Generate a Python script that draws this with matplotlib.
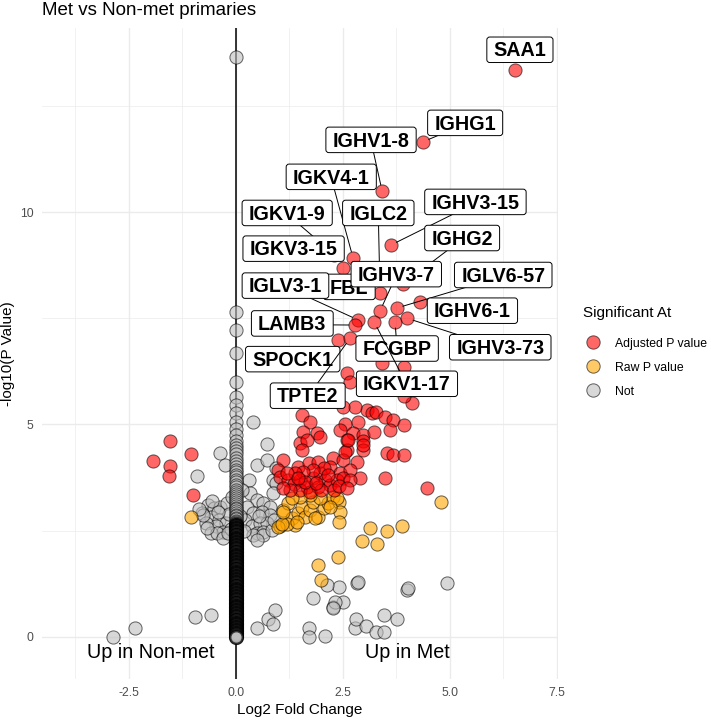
import matplotlib
matplotlib.use("Agg")
import matplotlib.pyplot as plt
from matplotlib.lines import Line2D
from matplotlib.patches import BoxStyle

plt.rcParams['font.family'] = ['Liberation Sans', 'DejaVu Sans']

# ---- data (log2 fold change, -log10 p) ----
# genes with log2FC == 0: the loose upper part of the column ...
zero_y = [13.65, 7.65, 7.22, 6.68, 6.0, 5.65, 5.46, 5.27, 5.06, 4.9, 4.75, 4.6, 4.52,
          4.45, 4.38, 4.3, 4.22, 4.15, 4.08, 4.0, 3.94, 3.88, 3.82, 3.76, 3.7, 3.64,
          3.58, 3.52, 3.47, 3.42, 3.37, 3.32, 3.27, 3.22, 3.17, 3.12, 3.08, 3.04, 3.0,
          2.96, 2.92, 2.88, 2.84, 2.8, 2.77, 2.74, 2.71, 2.68]
# ... and the packed lower part that turns solid black
zero_y_dense = [2.66, 2.64, 2.63, 2.61, 2.60,
                2.59, 2.57, 2.56, 2.54, 2.53, 2.51, 2.50,
                2.49, 2.47, 2.46, 2.44, 2.43, 2.41, 2.40,
                2.39, 2.37, 2.36, 2.34, 2.33, 2.31, 2.30,
                2.29, 2.27, 2.26, 2.24, 2.23, 2.21, 2.20,
                2.19, 2.17, 2.16, 2.14, 2.13, 2.11, 2.10,
                2.09, 2.07, 2.06, 2.04, 2.03, 2.01, 2.00,
                1.99, 1.97, 1.96, 1.94, 1.93, 1.91, 1.90,
                1.89, 1.87, 1.86, 1.84, 1.83, 1.81, 1.80,
                1.79, 1.77, 1.76, 1.74, 1.73, 1.71, 1.70,
                1.69, 1.67, 1.66, 1.64, 1.63, 1.61, 1.60,
                1.59, 1.57, 1.56, 1.54, 1.53, 1.51, 1.50,
                1.49, 1.47, 1.46, 1.44, 1.43, 1.41, 1.40,
                1.39, 1.37, 1.36, 1.34, 1.33, 1.31, 1.30,
                1.29, 1.27, 1.26, 1.24, 1.23, 1.21, 1.20,
                1.19, 1.17, 1.16, 1.14, 1.13, 1.11, 1.10,
                1.09, 1.07, 1.06, 1.04, 1.03, 1.01, 1.00,
                0.99, 0.97, 0.96, 0.94, 0.93, 0.91, 0.90,
                0.89, 0.87, 0.86, 0.84, 0.83, 0.81, 0.80,
                0.79, 0.77, 0.76, 0.74, 0.73, 0.71, 0.70,
                0.69, 0.67, 0.66, 0.64, 0.63, 0.61, 0.60,
                0.59, 0.57, 0.56, 0.54, 0.53, 0.51, 0.50,
                0.49, 0.47, 0.46, 0.44, 0.43, 0.41, 0.40,
                0.39, 0.37, 0.36, 0.34, 0.33, 0.31, 0.30,
                0.29, 0.27, 0.26, 0.24, 0.23, 0.21, 0.20,
                0.19, 0.17, 0.16, 0.14, 0.13, 0.11, 0.10,
                0.09, 0.07, 0.06, 0.04, 0.03, 0.01, 0.00]

not_sig = [(-2.87, 0.0), (-2.35, 0.21), (-0.95, 0.48), (-0.58, 0.52),
           (-0.9, 3.79), (-0.37, 4.32), (-0.25, 4.05), (-0.65, 3.1), (-0.78, 2.91),
           (-0.51, 3.03), (-0.36, 3.07), (-0.2, 3.15), (-0.59, 2.83), (-0.39, 2.75),
           (-0.23, 2.68), (-0.47, 2.6), (-0.7, 2.68), (-0.31, 2.48), (-0.59, 2.44),
           (-0.76, 2.87), (-0.44, 2.45), (-0.68, 2.56), (-0.29, 2.33), (-0.15, 2.9),
           (-0.12, 2.55), (-0.85, 3.0), (-0.1, 3.3), (-0.55, 3.2), (-0.42, 2.95),
           (-0.18, 2.45),
           (0.41, 5.07), (0.72, 4.54), (0.49, 4.05), (0.72, 4.16), (0.3, 3.69),
           (0.87, 3.69), (0.95, 3.97), (0.95, 3.62), (0.88, 3.38), (0.34, 3.38),
           (0.49, 3.22), (0.64, 3.15), (0.8, 3.07), (0.26, 3.07), (0.41, 2.91),
           (0.61, 2.95), (0.8, 2.87), (0.22, 2.75), (0.38, 2.6), (0.57, 2.68),
           (0.72, 2.68), (0.49, 2.44), (0.64, 2.48), (0.41, 2.4), (0.64, 2.4),
           (0.49, 2.28), (0.84, 2.52), (0.15, 3.45), (0.2, 2.5), (0.1, 2.85),
           (0.55, 2.85), (0.9, 2.75),
           (0.5, 0.21), (0.76, 0.42), (0.92, 0.63), (0.87, 0.3), (1.7, 0.21),
           (1.7, 0.0), (2.09, 0.03), (1.81, 0.91), (2.28, 0.71), (2.51, 0.82),
           (2.32, 0.82), (2.4, 1.18), (2.14, 1.22), (2.84, 1.27), (2.86, 1.3),
           (4.0, 1.1), (4.02, 1.15), (4.94, 1.27), (2.79, 0.21), (2.81, 0.42),
           (3.05, 0.26), (3.47, 0.52), (3.77, 0.42), (3.28, 0.12), (3.47, 0.12),
           (2.27, 0.67)]

raw_sig = [(-1.04, 2.83),
           (1.035, 2.6), (1.11, 2.99), (1.23, 3.15), (1.31, 2.79), (1.39, 2.64),
           (1.46, 2.91), (1.54, 3.07), (1.62, 2.83), (1.74, 2.99), (1.81, 3.18),
           (1.93, 2.83), (2.05, 3.03), (2.16, 3.15), (2.28, 3.3), (2.4, 3.18),
           (2.44, 2.95), (2.4, 2.71), (2.36, 3.26), (1.97, 3.26), (1.74, 3.34),
           (1.5, 3.3), (1.31, 3.26), (1.19, 2.67), (1.42, 2.71), (1.85, 2.79),
           (2.2, 3.07), (0.99, 2.59), (1.07, 2.66), (1.11, 2.93),
           (1.93, 1.69), (1.99, 1.34), (2.38, 1.88), (2.95, 2.26), (3.14, 2.56),
           (3.53, 2.49), (3.3, 2.19), (3.89, 2.61), (4.8, 3.18)]

adj_sig = [(-1.53, 4.61), (-1.93, 4.13), (-1.53, 4.02), (-1.56, 3.79), (-1.04, 4.31),
           (-0.99, 3.34),
           (3.41, 6.44), (3.92, 6.36), (2.59, 6.2), (2.67, 6.01), (4.11, 5.5),
           (3.92, 5.66), (3.06, 5.34), (3.18, 5.26), (3.27, 5.3), (2.79, 5.42),
           (3.49, 5.18), (3.68, 5.1), (3.92, 4.99), (2.55, 5.02), (2.86, 5.06),
           (2.44, 4.87), (2.75, 4.79), (2.98, 4.75), (3.22, 4.83), (3.6, 4.87),
           (1.54, 5.23), (1.74, 5.07), (1.58, 4.83), (1.89, 4.79), (1.97, 4.7),
           (1.5, 4.56), (1.66, 4.63), (2.59, 4.64), (2.98, 4.6), (2.98, 4.4),
           (3.53, 4.32), (3.68, 4.28), (3.92, 4.28), (3.49, 3.74), (4.46, 3.5),
           (2.59, 4.4), (2.28, 4.2), (2.83, 4.12), (1.11, 4.16), (1.46, 4.0),
           (1.7, 4.09), (1.93, 4.12), (2.51, 5.42), (2.51, 4.16), (1.54, 4.4),
           (0.996, 3.93), (2.2, 4.01), (2.44, 3.85), (2.67, 3.93), (2.9, 3.73),
           (2.98, 4.52), (2.55, 4.36), (2.63, 4.63),
           (1.04, 3.77), (1.23, 3.69), (1.35, 3.61), (1.5, 3.69), (1.66, 3.54),
           (1.81, 3.73), (1.97, 3.85), (2.09, 3.69), (2.2, 3.58), (2.36, 3.69),
           (2.51, 3.73), (2.67, 3.69), (2.05, 3.97), (1.81, 3.93), (1.58, 3.89),
           (1.39, 3.85), (1.93, 3.54), (1.5, 3.46), (1.74, 3.42), (1.27, 3.46),
           (1.1, 3.5), (1.2, 3.85), (2.0, 3.45), (2.3, 3.45), (1.62, 3.65),
           (1.88, 3.62), (2.15, 3.82), (2.4, 3.55), (1.45, 3.75), (2.6, 3.5)]

# labelled genes: name, log2FC, -log10 p
labelled = [("FBL", 2.6, 8.25), ("SAA1", 6.53, 13.34), ("IGHG1", 4.37, 11.65),
            ("IGHV1-8", 3.42, 10.49), ("IGKV4-1", 2.74, 8.92), ("IGKV1-9", 2.3, 9.0),
            ("IGLC2", 3.37, 8.09), ("IGHV3-15", 3.62, 9.22), ("IGHG2", 3.9, 8.3),
            ("IGKV3-15", 2.51, 8.69), ("IGHV3-7", 3.37, 7.67), ("IGLV3-1", 2.86, 7.46),
            ("IGLV6-57", 3.76, 7.74), ("IGHV6-1", 4.31, 7.89), ("LAMB3", 2.79, 7.34),
            ("SPOCK1", 2.39, 6.99), ("FCGBP", 3.72, 7.42), ("IGHV3-73", 4.0, 7.5),
            ("IGKV1-17", 3.23, 7.42), ("TPTE2", 2.67, 7.03)]

# where the repelled labels ended up
label_pos = {"FBL": (2.65, 8.21), "SAA1": (6.64, 13.79), "IGHG1": (5.36, 12.07),
             "IGHV1-8": (3.16, 11.67), "IGKV4-1": (2.23, 10.8), "IGKV1-9": (1.2, 9.95),
             "IGLC2": (3.33, 9.95), "IGHV3-15": (5.6, 10.21), "IGHG2": (5.29, 9.36),
             "IGKV3-15": (1.35, 9.11), "IGHV3-7": (3.75, 8.51), "IGLV3-1": (1.16, 8.24),
             "IGLV6-57": (6.25, 8.49), "IGHV6-1": (5.53, 7.65), "LAMB3": (1.32, 7.35),
             "SPOCK1": (1.33, 6.51), "FCGBP": (3.77, 6.76), "IGHV3-73": (6.18, 6.79),
             "IGKV1-17": (4.0, 5.93), "TPTE2": (1.68, 5.65)}
no_segment = {"SAA1", "IGKV3-15", "IGHV6-1", "SPOCK1", "FBL"}

RED, ORANGE, GREY = "#FF0000", "#FFA500", "#BEBEBE"

fig = plt.figure(figsize=(7.11, 7.2), dpi=100)
ax = fig.add_axes([0.0591, 0.0569, 0.7257, 0.9042])

ax.set_xlim(-4.53, 7.53)
ax.set_ylim(-0.99, 14.33)
ax.set_xticks([-2.5, 0, 2.5, 5, 7.5], ["-2.5", "0.0", "2.5", "5.0", "7.5"])
ax.set_yticks([0, 5, 10], ["0", "5", "10"])
ax.set_xticks([-3.75, -1.25, 1.25, 3.75, 6.25], minor=True)
ax.set_yticks([2.5, 7.5, 12.5], minor=True)
ax.grid(which="major", color="#EBEBEB", lw=1.0)
ax.grid(which="minor", color="#EBEBEB", lw=0.5)
ax.set_axisbelow(True)
ax.tick_params(which="both", length=0, labelsize=8.8, labelcolor="#4D4D4D", pad=6)
for s in ax.spines.values():
    s.set_visible(False)

ax.axvline(0, color="black", lw=1.1, zorder=2)

pt = dict(s=90, edgecolors="black", linewidths=0.7, alpha=0.6, zorder=3)
ax.scatter([p[0] for p in not_sig], [p[1] for p in not_sig], c=GREY, **pt)
ax.scatter([0.0] * len(zero_y), zero_y, c=GREY, **pt)
# the real column holds thousands of overlapping genes; heavier outlines stand in for them
ax.scatter([0.0] * len(zero_y_dense), zero_y_dense, c=GREY, s=84, edgecolors="black",
           linewidths=1.7, alpha=0.6, zorder=3)
ax.scatter([p[0] for p in raw_sig], [p[1] for p in raw_sig], c=ORANGE, **pt)
ax.scatter([p[0] for p in adj_sig], [p[1] for p in adj_sig], c=RED, **pt)
ax.scatter([g[1] for g in labelled], [g[2] for g in labelled], c=RED, **pt)


def label_box(x0, y0, width, height, mutation_size):
    padx = 0.34 * mutation_size
    return BoxStyle.Round(pad=0, rounding_size=0.15)(
        x0 - padx, y0 - 0.105 * mutation_size, width + 2 * padx,
        height + 0.33 * mutation_size, mutation_size)


radius = 6.5
for i, (name, gx, gy) in enumerate(labelled):
    lx, ly = label_pos[name]
    z = 10 + 2 * i
    if name not in no_segment:
        p = ax.transData.transform((gx, gy))
        b = ax.transData.transform((lx, ly))
        d = b - p
        d = d / (d ** 2).sum() ** 0.5
        start = ax.transData.inverted().transform(p + radius * d)
        ax.plot([start[0], lx], [start[1], ly], color="black", lw=0.7, zorder=z)
    ax.text(lx, ly, name, fontsize=14.2, fontweight="bold", ha="center", va="center",
            zorder=z + 1,
            bbox=dict(boxstyle=label_box, fc="white", ec="black", lw=0.7))

ax.text(-1.98, -0.49, "Up in Non-met", fontsize=14.2, ha="center", va="baseline")
ax.text(4.0, -0.49, "Up in Met", fontsize=14.2, ha="center", va="baseline")

ax.set_title("Met vs Non-met primaries", loc="left", fontsize=13.5, pad=9.4)
ax.set_xlabel("Log2 Fold Change", fontsize=11, labelpad=2.5)
ax.set_ylabel("-log10(P Value)", fontsize=11, labelpad=4)

handles = [Line2D([], [], marker="o", ls="", ms=9.6, mfc=c, mec="black", mew=0.7, alpha=0.6)
           for c in (RED, ORANGE, GREY)]
leg = ax.legend(handles, ["Adjusted P value", "Raw P value", "Not"], title="Significant At",
                loc="upper left", bbox_to_anchor=(0.82, 0.575), bbox_transform=fig.transFigure,
                frameon=False, fontsize=8.8, title_fontsize=11, alignment="left",
                borderpad=0, borderaxespad=0, handlelength=1.6, handleheight=1.2,
                handletextpad=1.0, labelspacing=0.88)
leg._legend_box.sep = 12  # a bit more room under the legend title

fig.savefig("out.png", dpi=100)
